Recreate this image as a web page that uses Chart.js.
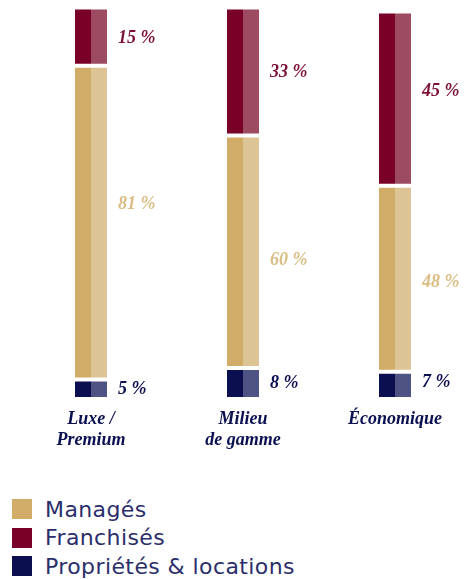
<!DOCTYPE html>
<html lang="fr">
<head>
<meta charset="utf-8">
<script src="https://cdn.jsdelivr.net/npm/chart.js@4/dist/chart.umd.min.js"></script>
<style>
  body { margin: 0; background: #fff; overflow: hidden; width: 466px; height: 579px; position: relative; }
  #zone { position: absolute; left: 0; top: 0; width: 480px; height: 463px; }
  #legende { position: absolute; left: 12px; top: 495px; font-family: "DejaVu Sans", sans-serif; font-size: 22px; letter-spacing: 0.4px; color: #2b2e6a; }
  .item { display: flex; align-items: center; height: 28.5px; }
  .carre { width: 20px; height: 20px; margin-right: 13px; }
</style>
</head>
<body>
<div id="zone"><canvas id="graphique"></canvas></div>
<div id="legende"></div>
<script>
const categories = [['Luxe /', 'Premium'], ['Milieu', 'de gamme'], ['Économique']];
const proprietes = [5, 8, 7];
const manages = [81, 60, 48];
const franchises = [15, 33, 45];

// ordre d'empilement : du bas vers le haut
const series = [
  { nom: 'Propriétés & locations', data: proprietes, fonce: '#0b0e4f', clair: '#4e5383', texte: '#0b1050', decalage: [0, 0, -3] },
  { nom: 'Managés', data: manages, fonce: '#d1ab68', clair: '#dcc494', texte: '#dbbd83', decalage: [-18, 9, 4] },
  { nom: 'Franchisés', data: franchises, fonce: '#790026', clair: '#9c4b60', texte: '#7b1236', decalage: [2, 1, -7] }
];

const datasets = [];
series.forEach((s) => {
  ['gauche', 'droite'].forEach((cote) => {
    datasets.push({
      label: s.nom,
      data: s.data,
      stack: cote,
      backgroundColor: cote === 'gauche' ? s.fonce : s.clair,
      borderColor: '#ffffff',
      borderWidth: { top: 2, bottom: 2, left: 0, right: 0 },
      borderSkipped: false,
      texte: s.texte,
      decalage: s.decalage
    });
  });
});

const etiquettes = {
  id: 'etiquettes',
  afterDatasetsDraw(chart) {
    const ctx = chart.ctx;
    ctx.save();
    ctx.font = 'italic bold 18px "Liberation Serif", serif';
    ctx.textBaseline = 'middle';
    ctx.textAlign = 'left';
    chart.data.datasets.forEach((ds, i) => {
      if (ds.stack !== 'droite') return;
      chart.getDatasetMeta(i).data.forEach((barre, j) => {
        ctx.fillStyle = ds.texte;
        const y = (barre.y + barre.base) / 2 + ds.decalage[j];
        ctx.fillText(ds.data[j] + '\u00a0%', barre.x + barre.width / 2 + 11, y);
      });
    });
    ctx.restore();
  }
};

new Chart(document.getElementById('graphique'), {
  type: 'bar',
  data: { labels: categories, datasets: datasets },
  options: {
    responsive: true,
    maintainAspectRatio: false,
    animation: false,
    layout: { padding: { left: 15, right: 9, top: 7.5, bottom: 2 } },
    datasets: { bar: { categoryPercentage: 32 / 152, barPercentage: 1 } },
    plugins: { legend: { display: false }, tooltip: { enabled: false } },
    scales: {
      x: {
        stacked: true,
        grid: { display: false, drawTicks: false },
        border: { display: false },
        ticks: {
          color: '#0b1050',
          padding: 10,
          font: { family: '"Liberation Serif", serif', size: 18, style: 'italic', weight: 'bold', lineHeight: 1.17 }
        }
      },
      y: { stacked: true, display: false, min: 0, max: 101 }
    }
  },
  plugins: [etiquettes]
});

const legende = document.getElementById('legende');
['Managés', 'Franchisés', 'Propriétés & locations'].forEach((nom) => {
  const s = series.find((x) => x.nom === nom);
  const item = document.createElement('div');
  item.className = 'item';
  item.innerHTML = '<span class="carre" style="background:' + s.fonce + '"></span><span>' + nom + '</span>';
  legende.appendChild(item);
});
</script>
</body>
</html>
